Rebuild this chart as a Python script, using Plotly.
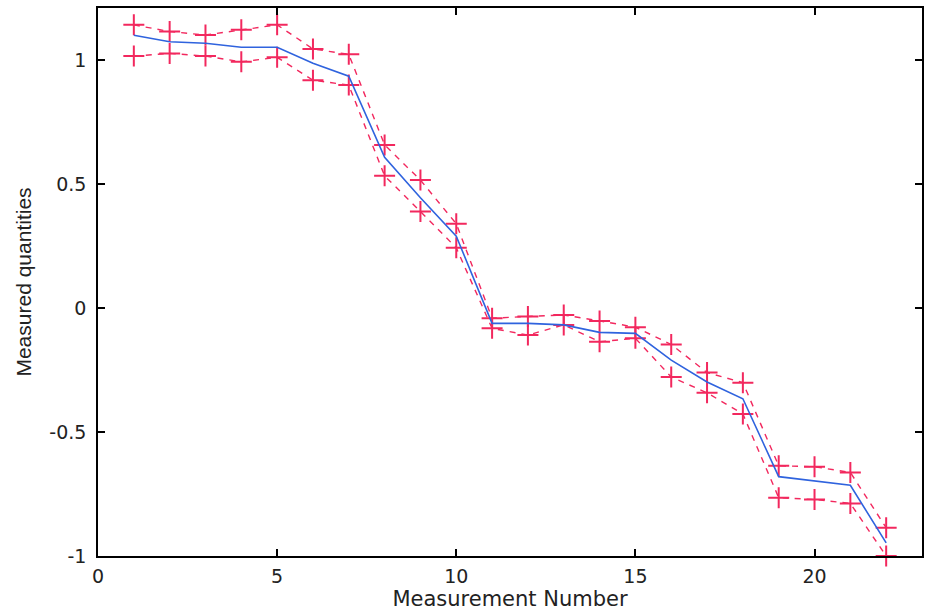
import plotly.graph_objects as go

x = list(range(1, 23))
estimate = [1.10, 1.074, 1.068, 1.052, 1.052, 0.987, 0.935, 0.608, 0.445, 0.29, -0.062,
            -0.062, -0.068, -0.098, -0.102, -0.21, -0.298, -0.366, -0.68, -0.697, -0.715, -0.947]
upper = [1.142, 1.115, 1.101, 1.122, 1.142, 1.045, 1.023, 0.658, 0.516, 0.340, -0.041,
         -0.034, -0.028, -0.052, -0.077, -0.147, -0.26, -0.301, -0.636, -0.640, -0.663, -0.886]
lower = [1.016, 1.027, 1.016, 0.993, 1.011, 0.919, 0.899, 0.533, 0.389, 0.243, -0.082,
         -0.109, -0.068, -0.136, -0.122, -0.278, -0.342, -0.427, -0.765, -0.772, -0.788, -1.0]

x_ticks = [0, 5, 10, 15, 20]
y_ticks = [-1, -0.5, 0, 0.5, 1]
y_tick_text = ["-1", "-0.5", "0", "0.5", "1"]

red = "#F2285E"
blue = "#2F63DE"

fig = go.Figure()
for series in (upper, lower):
    fig.add_trace(go.Scatter(
        x=x, y=series, mode="lines+markers",
        line=dict(color=red, width=1.4, dash="6px,6px"),
        marker=dict(symbol="cross-thin", size=15, line=dict(color=red, width=2)),
        cliponaxis=False, showlegend=False))
fig.add_trace(go.Scatter(
    x=x, y=estimate, mode="lines",
    line=dict(color=blue, width=1.6), showlegend=False))

tick_font = dict(family="DejaVu Sans", size=19, color="#222")
axis_common = dict(
    showline=True, linecolor="black", linewidth=1.5, mirror="allticks",
    ticks="inside", ticklen=7, tickcolor="black", tickwidth=1.5,
    showgrid=False, zeroline=False, tickfont=tick_font)

fig.update_layout(
    width=926, height=613,
    margin=dict(l=98, r=2, t=8, b=57),
    paper_bgcolor="white", plot_bgcolor="white",
    xaxis=dict(range=[0, 23], tickvals=x_ticks, ticklabelstandoff=2,
               title=dict(text="Measurement Number", standoff=2,
                          font=dict(family="DejaVu Sans", size=21, color="#222")),
               **axis_common),
    yaxis=dict(range=[-1, 1.21], tickvals=y_ticks, ticktext=y_tick_text,
               ticklabelstandoff=6,
               title=dict(text="Measured quantities", standoff=12,
                          font=dict(family="Liberation Sans", size=21, color="#222")),
               **axis_common),
)

fig.write_html("out.html")
